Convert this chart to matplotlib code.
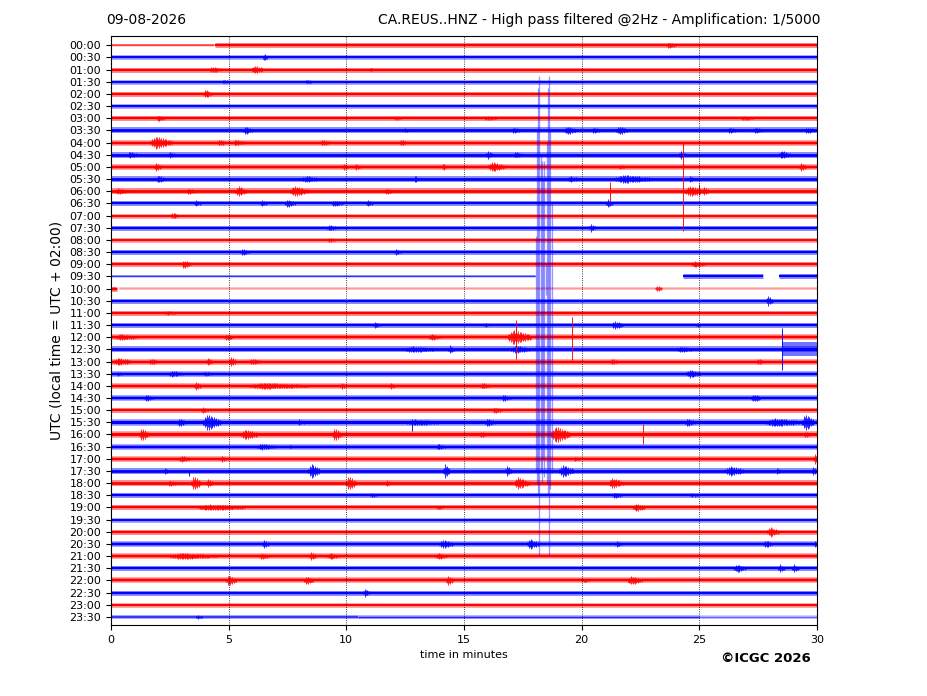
import numpy as np
import matplotlib
matplotlib.use("Agg")
import matplotlib.pyplot as plt

# helicorder: 48 rows of 30 minutes
date_text = "09-08-2026"
title_text = "CA.REUS..HNZ - High pass filtered @2Hz - Amplification: 1/5000"
row_labels = ["%02d:%02d" % (h, m) for h in range(24) for m in (0, 30)]
row_colors = ["red" if i % 2 == 0 else "blue" for i in range(48)]

# band thickness of the background noise in pixels, one per row
noise_px = [4, 3.5, 4, 3.5, 4, 3.5, 4, 5, 4.5, 5, 4.5, 5,
            5, 4, 3.5, 4, 3.5, 4, 4, 4, 4, 4, 4, 4,
            4.5, 5, 4.5, 4.5, 4.5, 4.5, 4, 5.5, 5.5, 4.5, 4.5, 5,
            5, 4, 4, 3.5, 4, 4.5, 4.5, 4, 4.5, 4, 3.5, 3]

# rows that are not one plain band: (start min, end min, band px, alpha)
# band px below 2.5 means a plain thin trace
segments = {
    0: [(0, 4.4, 2.0, 0.75), (4.4, 30, 4, 1.0)],
    19: [(0, 18.05, 1.8, 0.8), (24.3, 27.7, 4, 1.0), (28.4, 30, 4, 1.0)],
    20: [(0, 0.25, 4, 1.0), (0.35, 30, 2.2, 0.4)],
    47: [(0, 10.5, 3, 0.8), (10.5, 25, 2.6, 0.8), (25, 30, 2.6, 0.5)],
}

# wave trains: (row, peak minute, half amplitude px, length in minutes)
bursts = [
    (0, 23.7, 3, 0.4), (1, 6.5, 4, 0.2), (2, 4.3, 3, 0.5), (2, 6.1, 4, 0.5),
    (2, 11.0, 2, 0.3), (3, 4.8, 2, 0.4), (3, 8.3, 2, 0.4), (4, 4.0, 4, 0.4),
    (6, 2.0, 3, 0.4), (6, 12.1, 2, 0.3), (6, 16.0, 2, 0.5), (6, 26.9, 2, 0.5),
    (7, 5.7, 4, 0.4), (7, 12.5, 2, 0.3), (7, 17.1, 3, 0.4), (7, 19.4, 4, 0.5),
    (7, 20.5, 3, 0.4), (7, 21.6, 4, 0.5), (7, 26.3, 3, 0.4), (7, 27.4, 3, 0.4),
    (7, 29.6, 3, 0.5),
    (8, 1.9, 6, 0.9), (8, 4.6, 3, 0.4), (8, 5.3, 3, 0.5), (8, 9.0, 3, 0.4),
    (8, 12.3, 3, 0.3),
    (9, 0.8, 3, 0.5), (9, 2.5, 3, 0.3), (9, 16.0, 4, 0.3), (9, 17.2, 3, 0.4),
    (9, 24.2, 4, 0.3), (9, 28.5, 4, 0.5),
    (10, 1.9, 4, 0.3), (10, 9.9, 3, 0.3), (10, 10.4, 3, 0.3), (10, 14.1, 4, 0.2),
    (10, 16.2, 5, 0.7), (10, 21.6, 2, 0.3), (10, 29.3, 4, 0.3),
    (11, 2.0, 4, 0.4), (11, 8.3, 3, 0.8), (11, 12.9, 4, 0.2), (11, 19.5, 3, 0.5),
    (11, 21.8, 4, 1.6), (11, 24.6, 3, 0.3),
    (12, 0.3, 3, 0.6), (12, 3.3, 3, 0.4), (12, 5.4, 5, 0.5), (12, 7.8, 5, 0.8),
    (12, 11.7, 3, 0.4), (12, 24.6, 5, 0.9), (12, 25.2, 4, 0.3),
    (13, 3.6, 3, 0.3), (13, 6.4, 3, 0.3), (13, 7.5, 4, 0.4), (13, 9.5, 3, 0.5),
    (13, 10.9, 3, 0.3), (13, 21.1, 4, 0.3),
    (14, 2.6, 3, 0.4), (15, 9.3, 3, 0.4), (15, 20.4, 4, 0.3), (16, 9.3, 2, 0.4),
    (17, 5.6, 3, 0.4), (17, 12.1, 3, 0.3), (18, 3.1, 4, 0.4), (18, 24.8, 3, 0.6),
    (20, 0.1, 2, 0.2), (20, 23.2, 3, 0.3),
    (21, 27.9, 5, 0.3), (22, 2.4, 2, 0.5),
    (23, 11.2, 3, 0.3), (23, 15.9, 2, 0.2), (23, 21.4, 4, 0.5), (23, 24.9, 2, 0.2),
    (24, 0.4, 3, 0.9), (24, 4.9, 3, 0.4), (24, 13.6, 3, 0.5), (24, 17.1, 7, 1.0),
    (25, 12.8, 3, 1.4), (25, 14.4, 4, 0.3), (25, 17.2, 4, 0.8), (25, 24.2, 3, 0.7),
    (26, 0.3, 4, 0.7), (26, 1.7, 3, 0.4), (26, 4.1, 4, 0.3), (26, 5.1, 5, 0.3),
    (26, 6.0, 3, 0.5), (26, 21.3, 3, 0.3), (26, 27.5, 3, 0.3),
    (27, 0.3, 2, 0.3), (27, 2.6, 3, 0.6), (27, 4.0, 2, 0.5), (27, 24.6, 4, 0.6),
    (28, 3.6, 4, 0.3), (28, 6.5, 3, 2.6), (28, 9.8, 3, 0.3), (28, 11.9, 3, 0.3),
    (28, 15.8, 3, 0.4),
    (29, 1.5, 3, 0.4), (29, 16.7, 3, 0.4), (29, 27.3, 4, 0.4),
    (30, 3.9, 3, 0.3), (30, 16.3, 3, 0.4),
    (31, 2.9, 4, 0.4), (31, 4.1, 8, 0.7), (31, 8.0, 3, 0.3), (31, 12.9, 3, 1.6),
    (31, 16.0, 4, 0.4), (31, 24.5, 4, 0.4), (31, 28.2, 4, 1.6), (31, 29.5, 8, 0.5),
    (32, 1.3, 6, 0.4), (32, 5.7, 5, 0.7), (32, 9.5, 6, 0.4), (32, 15.7, 3, 0.3),
    (32, 18.9, 8, 0.8), (32, 29.5, 3, 0.3),
    (33, 6.4, 3, 0.8), (33, 7.6, 2, 0.2), (33, 13.9, 3, 0.4),
    (34, 3.0, 3, 0.5), (34, 4.7, 3, 0.3), (34, 19.7, 2, 0.3), (34, 29.9, 5, 0.3),
    (35, 2.3, 3, 0.3), (35, 8.5, 7, 0.5), (35, 14.2, 7, 0.3), (35, 16.8, 5, 0.3),
    (35, 19.2, 6, 0.6), (35, 26.3, 5, 0.8), (35, 28.3, 3, 0.3), (35, 29.8, 4, 0.3),
    (36, 2.5, 3, 0.4), (36, 3.5, 7, 0.4), (36, 4.1, 4, 0.3), (36, 10.1, 7, 0.4),
    (36, 11.7, 3, 0.3), (36, 17.3, 6, 0.6), (36, 21.3, 5, 0.6),
    (37, 11.1, 2, 0.3), (37, 21.4, 3, 0.4), (37, 24.7, 2, 0.3),
    (38, 4.2, 3, 2.0), (38, 13.9, 2, 0.3), (38, 22.3, 4, 0.5),
    (40, 28.0, 5, 0.5),
    (41, 6.5, 4, 0.3), (41, 14.1, 4, 0.6), (41, 17.8, 5, 0.5), (41, 21.5, 3, 0.3),
    (41, 27.8, 4, 0.4), (41, 29.9, 3, 0.3),
    (42, 3.0, 3, 2.0), (42, 6.4, 3, 0.4), (42, 8.5, 4, 0.3), (42, 9.3, 3, 0.5),
    (42, 13.9, 3, 0.5),
    (43, 26.6, 4, 0.5), (43, 28.4, 4, 0.3), (43, 29.0, 4, 0.3),
    (44, 5.0, 5, 0.4), (44, 8.3, 4, 0.4), (44, 14.3, 5, 0.3), (44, 20.1, 2, 0.3),
    (44, 22.1, 4, 0.6),
    (45, 10.8, 4, 0.3), (47, 3.7, 2, 0.3),
]

# single spikes: (row, minute, up px, down px)
spikes = [
    (12, 21.2, 9, 10), (12, 24.3, 48, 40), (12, 25.0, 7, 4),
    (24, 17.2, 17, 22), (24, 19.6, 20, 23), (25, 28.5, 21, 21),
    (31, 12.8, 3, 9), (32, 22.6, 10, 10), (35, 3.3, 1, 5),
]

# large excursions of the 09:30 trace: (minute, up rows, down rows)
big_t = [18.05, 18.10, 18.16, 18.20, 18.26, 18.30, 18.36, 18.40, 18.47,
         18.52, 18.56, 18.62, 18.67, 18.72]
big_up = [3.3, 12.0, 15.5, 16.5, 10.0, 9.5, 8.0, 9.5, 1.0,
          11.0, 15.5, 16.5, 12.0, 6.0]
big_down = [16.0, 17.0, 18.0, 22.9, 16.0, 17.0, 15.0, 16.5, 1.5,
            17.0, 18.0, 22.9, 17.5, 16.2]

# noisy trace at the end of 12:30
loud = (25, 28.5, 30.0, 7)

ROW_PX = 12.17
PT = 0.72  # points per pixel at 100 dpi

fig = plt.figure(figsize=(9.27, 6.96), dpi=100)
ax = fig.add_axes([0.1197, 0.102, 0.7616, 0.846])

for i in range(48):
    c = row_colors[i]
    segs = segments.get(i, [(0, 30, noise_px[i], 1.0)])
    for t0, t1, w, a in segs:
        if w >= 2.5:
            ax.plot([t0, t1], [i, i], color=c, lw=(w + 1) * PT, alpha=0.45 * a,
                    solid_capstyle="butt")
            ax.plot([t0, t1], [i, i], color=c, lw=w * 0.55 * PT, alpha=a,
                    solid_capstyle="butt")
        else:
            ax.plot([t0, t1], [i, i], color=c, lw=w * PT, alpha=a,
                    solid_capstyle="butt", snap=False)

# each wave train drawn as a comb of strokes under a spindle envelope
for row, t, amp, w in bursts:
    a = amp / ROW_PX
    n = max(4, int(w / 0.035))
    xs = np.linspace(t - 0.25 * w, t + 0.75 * w, n)
    env = np.where(xs < t, (xs - (t - 0.25 * w)) / (0.25 * w),
                   1 - (xs - t) / (0.75 * w))
    env = 0.3 + 0.7 * np.clip(env, 0, 1)
    wig = np.where(np.arange(n) % 2 == 0, 1.0, 0.65)
    h = a * env * wig
    ax.vlines(xs, row - h, row + h, color=row_colors[row], lw=1.0 * PT,
              alpha=0.8)

for row, t, up, down in spikes:
    ax.vlines(t, row - up / ROW_PX, row + down / ROW_PX, color=row_colors[row],
              lw=1.0 * PT, alpha=0.9)

r, t0, t1, amp = loud
ax.fill_between([t0, t1], r - amp / ROW_PX, r + amp / ROW_PX,
                color=row_colors[r], alpha=0.55, lw=0)
ax.plot([t0, t1], [r, r], color=row_colors[r], lw=3 * PT)

for t, up, down in zip(big_t, big_up, big_down):
    ax.vlines(t, 19 - up, 19 + down, color="blue", lw=1.3 * PT, alpha=0.4)

ax.set_xlim(0, 30)
ax.set_ylim(47.66, -0.74)
ax.set_yticks(range(48))
ax.set_yticklabels(row_labels)
ax.set_xticks(range(0, 31, 5))
ax.tick_params(labelsize=8)
ax.xaxis.grid(True, linestyle=":", color="black", lw=0.6)
ax.set_axisbelow(False)
ax.set_xlabel("time in minutes", fontsize=8)
ax.set_ylabel("UTC (local time = UTC + 02:00)", fontsize=10)

fig.text(106 / 927, 1 - 20 / 696, date_text, fontsize=10, va="center", ha="left")
fig.text(821 / 927, 1 - 20 / 696, title_text, fontsize=10, va="center", ha="right")
fig.text(811 / 927, 1 - 658 / 696, "\u00a9ICGC 2026", fontsize=9.5,
         fontweight="bold", va="center", ha="right")

fig.savefig("out.png", dpi=100)
